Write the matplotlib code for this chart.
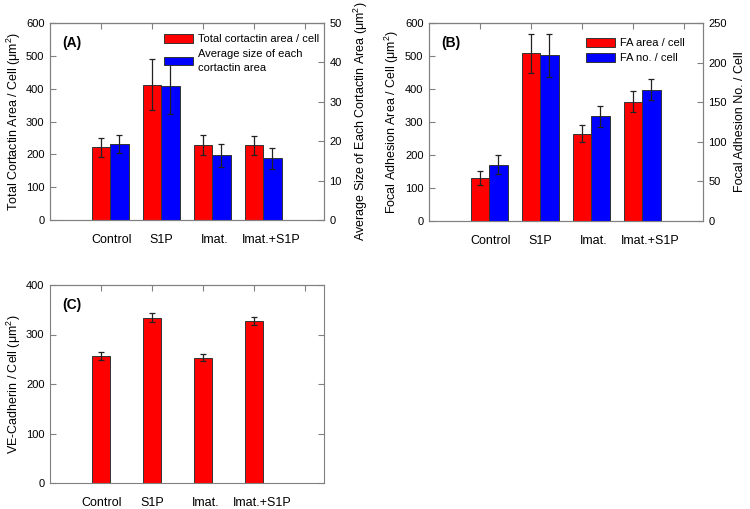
import numpy as np
import matplotlib
matplotlib.use("Agg")
import matplotlib.pyplot as plt

plt.rcParams["font.family"] = ["Liberation Sans", "DejaVu Sans"]
plt.rcParams["mathtext.fontset"] = "custom"
plt.rcParams["mathtext.rm"] = "Liberation Sans"
plt.rcParams["mathtext.it"] = "Liberation Sans:italic"
plt.rcParams["font.size"] = 8

categories = ["Control", "S1P", "Imat.", "Imat.+S1P"]

# (A) cortactin
cortactin_total = [221, 412, 228, 227]
cortactin_total_err = [29, 77, 30, 30]
cortactin_size = [19.3, 34.0, 16.4, 15.7]
cortactin_size_err = [2.3, 7.0, 3.0, 2.7]

# (B) focal adhesions
fa_area = [131, 509, 265, 362]
fa_area_err = [22, 59, 26, 33]
fa_no = [71, 209, 132, 166]
fa_no_err = [12, 27, 13, 13.5]

# (C) VE-cadherin
vecad = [257, 334, 253, 328]
vecad_err = [8.5, 9, 7, 8]

GRAY = "#808080"
RED = "#ff0000"
BLUE = "#0000ff"
W = 0.36
x = np.arange(1, len(categories) + 1)
err_kw = dict(ecolor="#222222", elinewidth=0.9, capsize=2.5, capthick=0.9)


def style(ax, ymax, step):
    ax.set_ylim(0, ymax)
    ax.set_yticks(np.arange(0, ymax + 1e-9, step))
    ax.set_xlim(0, 5.37)
    for sp in ax.spines.values():
        sp.set_color(GRAY)
    ax.tick_params(axis="y", direction="in", length=4, color=GRAY, pad=4)
    ax.tick_params(axis="x", length=0, pad=10)


def top_ticks(ax):
    sec = ax.secondary_xaxis("top")
    sec.set_xticks(np.arange(1, 6))
    sec.tick_params(direction="in", length=4, color=GRAY, labeltop=False)
    sec.spines["top"].set_color(GRAY)


def panel_letter(ax, s):
    ax.text(0.044, 0.9, s, transform=ax.transAxes, fontsize=10,
            fontweight="bold", va="center", ha="left")


def add_legend(ax, handles, anchor):
    leg = ax.legend(handles, [h.get_label() for h in handles], loc="upper right",
                    bbox_to_anchor=anchor, frameon=False, fontsize=8,
                    handlelength=2.6, handleheight=0.75, handletextpad=0.5,
                    labelspacing=0.45, borderaxespad=0)
    for t in leg.get_texts():
        t.set_linespacing(1.45)


fig = plt.figure(figsize=(7.5, 5.09), dpi=100)

# ---- (A)
ax = fig.add_axes([50 / 750, 1 - 220 / 509, 274 / 750, 197 / 509])
ax2 = ax.twinx()
style(ax, 600, 100)
style(ax2, 50, 10)
b1 = ax.bar(x, cortactin_total, W, yerr=cortactin_total_err, color=RED,
            edgecolor="#333333", linewidth=0.7, error_kw=err_kw,
            label="Total cortactin area / cell")
b2 = ax2.bar(x + W, cortactin_size, W, yerr=cortactin_size_err, color=BLUE,
             edgecolor="#333333", linewidth=0.7, error_kw=err_kw,
             label="Average size of each\ncortactin area")
ax.set_xticks(x + W / 2 + np.array([0.02, 0.0, 0.04, 0.15]))
ax.set_xticklabels(categories, fontsize=9)
ax.set_ylabel("Total Cortactin Area / Cell (μm$^2$)", fontsize=9, labelpad=2)
ax2.set_ylabel("Average Size of Each Cortactin Area (μm$^2$)", fontsize=9, labelpad=7)
top_ticks(ax)
panel_letter(ax, "(A)")
add_legend(ax2, [b1, b2], (1.0, 0.965))

# ---- (B)
bx = fig.add_axes([429 / 750, 1 - 221 / 509, 274 / 750, 198 / 509])
bx2 = bx.twinx()
style(bx, 600, 100)
style(bx2, 250, 50)
c1 = bx.bar(x, fa_area, W, yerr=fa_area_err, color=RED,
            edgecolor="#333333", linewidth=0.7, error_kw=err_kw,
            label="FA area / cell")
c2 = bx2.bar(x + W, fa_no, W, yerr=fa_no_err, color=BLUE,
             edgecolor="#333333", linewidth=0.7, error_kw=err_kw,
             label="FA no. / cell")
bx.set_xticks(x + W / 2 + np.array([0.02, 0.0, 0.04, 0.15]))
bx.set_xticklabels(categories, fontsize=9)
bx.set_ylabel("Focal Adhesion Area / Cell (μm$^2$)", fontsize=9, labelpad=3)
bx2.set_ylabel("Focal Adhesion No. / Cell", fontsize=9, labelpad=5)
top_ticks(bx)
panel_letter(bx, "(B)")
add_legend(bx2, [c1, c2], (0.95, 0.945))

# ---- (C)
cx = fig.add_axes([50 / 750, 1 - 483 / 509, 274 / 750, 198 / 509])
style(cx, 400, 100)
cx.tick_params(axis="y", right=True)
cx.bar(x, vecad, W, yerr=vecad_err, color=RED, edgecolor="#333333",
       linewidth=0.7, error_kw=err_kw)
cx.set_xticks(x + np.array([0.02, 0.0, 0.06, 0.15]))
cx.set_xticklabels(categories, fontsize=9)
cx.set_ylabel("VE-Cadherin / Cell (μm$^2$)", fontsize=9, labelpad=2)
top_ticks(cx)
panel_letter(cx, "(C)")

fig.savefig("out.png", dpi=100)
